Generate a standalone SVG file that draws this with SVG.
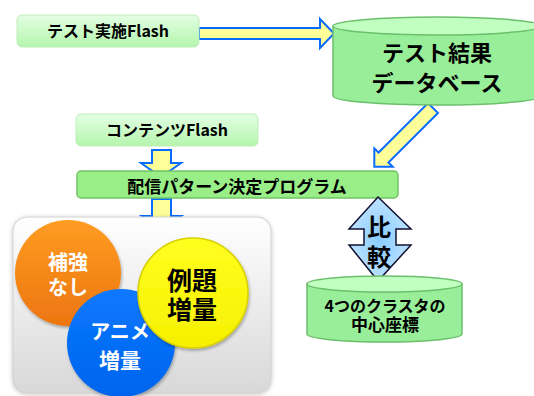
<svg xmlns="http://www.w3.org/2000/svg" width="534" height="396" viewBox="0 0 534 396">
<defs>
<linearGradient id="gBox" x1="0" y1="0" x2="0" y2="1"><stop offset="0" stop-color="#e4ffe4"/><stop offset="1" stop-color="#b4f5ac"/></linearGradient>
<linearGradient id="gPanel" x1="0" y1="0" x2="0" y2="1"><stop offset="0" stop-color="#ffffff"/><stop offset="1" stop-color="#d8d8d8"/></linearGradient>
<linearGradient id="gOrange" x1="0" y1="0" x2="0" y2="1"><stop offset="0" stop-color="#ff9c22"/><stop offset="1" stop-color="#ec7510"/></linearGradient>
<linearGradient id="gBlue" x1="0" y1="0" x2="0" y2="1"><stop offset="0" stop-color="#0a78ff"/><stop offset="1" stop-color="#0064ee"/></linearGradient>
<linearGradient id="gYellow" x1="0" y1="0" x2="0" y2="1"><stop offset="0" stop-color="#ffff20"/><stop offset="1" stop-color="#f6f000"/></linearGradient>
<radialGradient id="gCmp" cx="0.5" cy="0.5" r="0.6"><stop offset="0" stop-color="#88ccff"/><stop offset="1" stop-color="#c8e6ff"/></radialGradient>
<filter id="sh" x="-20%" y="-20%" width="140%" height="140%"><feDropShadow dx="1" dy="2" stdDeviation="1.5" flood-color="#000" flood-opacity="0.3"/></filter>
<filter id="psh" x="-10%" y="-10%" width="120%" height="120%"><feDropShadow dx="0" dy="1" stdDeviation="2" flood-color="#000" flood-opacity="0.25"/></filter>
</defs>
<style>
.jp{font-family:"Noto Sans CJK JP","Noto Sans",sans-serif;font-weight:700;text-anchor:middle}
.box{fill:url(#gBox);stroke:#bfeebb;stroke-width:1}
.arrow{fill:#ffff99;stroke:#0a6cff;stroke-width:2;stroke-linejoin:miter}
.cylBody{fill:#99ee99;stroke:#6cbf6c;stroke-width:1.5}
.cylTop{fill:#c0ffc0;stroke:#6cbf6c;stroke-width:1.5}
</style>

<g id="connectors">
<polygon class="arrow" points="199,28 320,28 320,19 334,33.5 320,48 320,39 199,39"/>
<polygon class="arrow" transform="translate(433,108) rotate(135)" points="0,-7 70,-7 70,-13 83,0 70,13 70,7 0,7"/>
<polygon class="arrow" points="152,150 171,150 171,163 181,163 161,177 141,163 152,163"/>
<polygon class="arrow" points="152,199 171,199 171,216 181,216 161.5,229 142,216 152,216"/>
</g>

<g id="node-test-flash">
<rect class="box" x="17" y="15" width="182" height="32" rx="5"/>
<text class="jp" x="108" y="37" font-size="16">テスト実施Flash</text>
</g>

<g id="node-test-db">
<path class="cylBody" d="M333,26 L333,96 A104,9 0 0 0 541,96 L541,26 Z"/>
<ellipse class="cylTop" cx="437" cy="26" rx="104" ry="9"/>
<text class="jp" font-size="22"><tspan x="437" y="61">テスト結果</tspan><tspan x="437" y="91">データベース</tspan></text>
</g>

<g id="node-contents-flash">
<rect class="box" x="76" y="114" width="182" height="32" rx="5"/>
<text class="jp" x="167" y="136" font-size="16">コンテンツFlash</text>
</g>

<g id="node-program">
<rect x="77" y="171" width="321" height="27" rx="4" fill="#99ee88" stroke="#72c466" stroke-width="1.5"/>
<text class="jp" x="237" y="193" font-size="17">配信パターン決定プログラム</text>
</g>

<g id="node-panel">
<rect x="13" y="217" width="258" height="176" rx="14" fill="url(#gPanel)" stroke="#d0d0d0" stroke-width="1" filter="url(#psh)"/>
</g>

<g id="node-orange">
<circle cx="68" cy="273" r="53" fill="url(#gOrange)" filter="url(#sh)"/>
<text class="jp" font-size="20" fill="#ffffff"><tspan x="68" y="270">補強</tspan><tspan x="68" y="295">なし</tspan></text>
</g>

<g id="node-blue">
<circle cx="121" cy="343" r="54" fill="url(#gBlue)" filter="url(#sh)"/>
<text class="jp" font-size="20" fill="#ffffff"><tspan x="120" y="339">アニメ</tspan><tspan x="120" y="368" font-size="21">増量</tspan></text>
</g>

<g id="node-yellow">
<circle cx="193" cy="293" r="55" fill="url(#gYellow)" stroke="#d8d000" stroke-width="1.5" filter="url(#sh)"/>
<text class="jp" font-size="25" fill="#000000"><tspan x="192" y="290">例題</tspan><tspan x="192" y="319">増量</tspan></text>
</g>

<g id="node-compare">
<polygon points="378,197 411,229 396,229 396,245 411,245 378,281 349,245 364,245 364,229 349,229" fill="url(#gCmp)" stroke="#111133" stroke-width="1.5" stroke-linejoin="miter"/>
<text class="jp" font-size="24" fill="#000000"><tspan x="379" y="236">比</tspan><tspan x="379" y="266">較</tspan></text>
</g>

<g id="node-cluster">
<path class="cylBody" d="M307,284 L307,334 A77.5,8 0 0 0 462,334 L462,284 Z"/>
<ellipse class="cylTop" cx="384.5" cy="284" rx="77.5" ry="8"/>
<text class="jp" font-size="16"><tspan x="385" y="312">4つのクラスタの</tspan><tspan x="385" y="331" font-size="17">中心座標</tspan></text>
</g>
</svg>
